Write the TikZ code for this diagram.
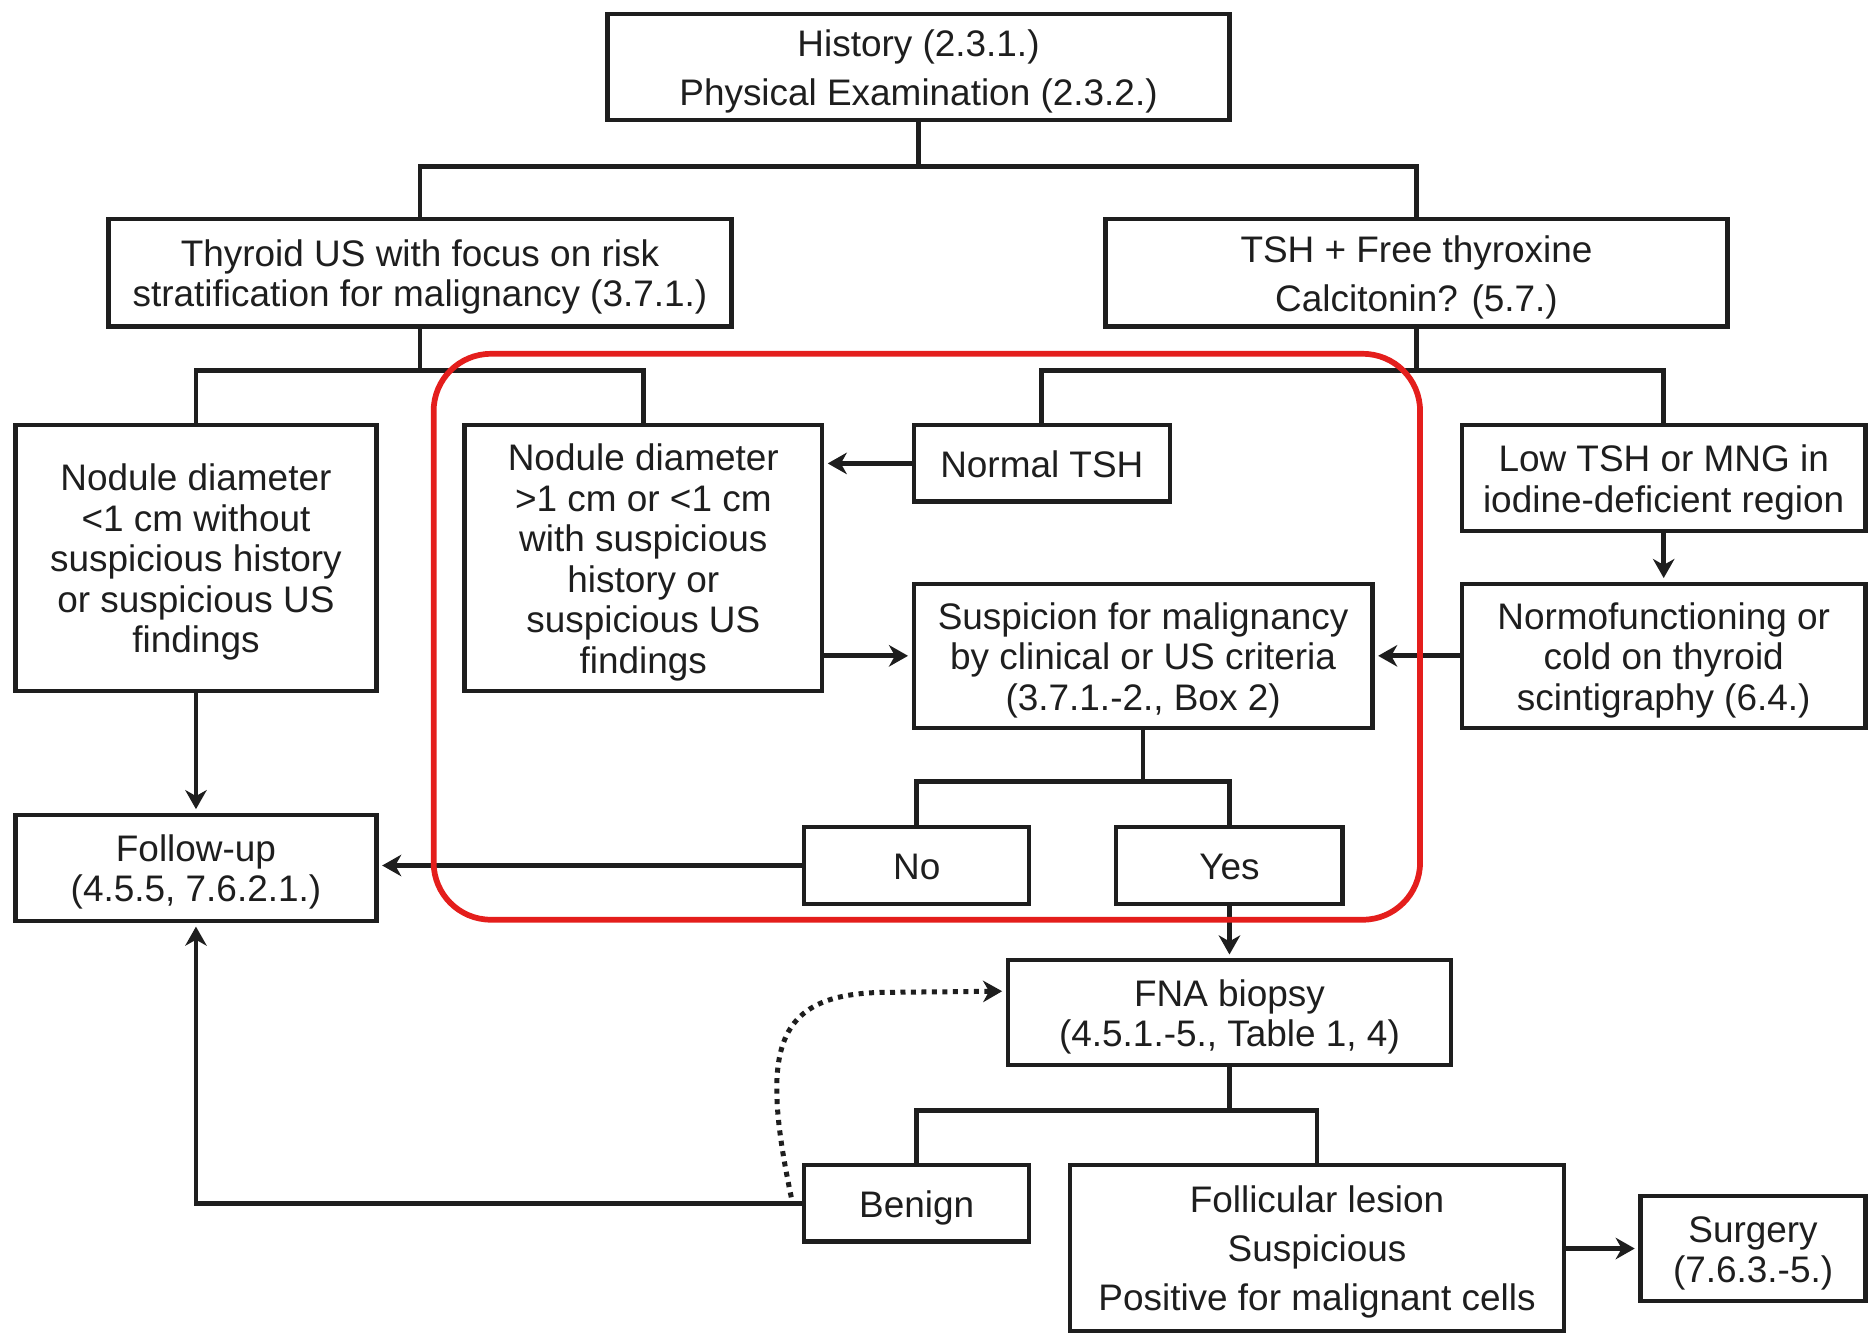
\documentclass[tikz,border=0pt]{standalone}
\usepackage{fontspec}
\setmainfont{Liberation Sans}
\usetikzlibrary{arrows.meta}
\definecolor{hl}{RGB}{228,30,28}
\definecolor{ink}{RGB}{30,30,30}
\newcommand\tstr{\rule{0pt}{15pt}}
\newcommand\bstr{\rule[-3.4pt]{0pt}{0pt}}
\begin{document}
\begin{tikzpicture}[x=0.5pt,y=-0.5pt,
  box/.style={draw=ink, line width=1.8pt, inner sep=0pt, align=center, text=ink,
    font=\fontsize{15.5}{17}\selectfont},
  wide/.style={font=\fontsize{15.5}{20.5}\selectfont},
  conn/.style={draw=ink, line width=2pt},
  tip/.style={-{Stealth[length=8pt,width=9pt,inset=2.5pt]}},
  arr/.style={conn, tip, shorten >=1.5pt}]
\useasboundingbox[fill=white] (0,0) rectangle (1568,1119);

% boxes
\node[box, wide, minimum width=261pt, minimum height=44.5pt] (hist) at (771,56.5)
  {\tstr History (2.3.1.)\\Physical Examination (2.3.2.)\bstr};
\node[box, minimum width=261.5pt, minimum height=45pt] (thy) at (352.5,229)
  {\tstr Thyroid US with focus on risk\\stratification for malignancy (3.7.1.)\bstr};
\node[box, wide, minimum width=261pt, minimum height=45pt] (tsh) at (1189,229)
  {\tstr TSH + Free thyroxine\\Calcitonin? (5.7.)\bstr};
\node[box, minimum width=151.5pt, minimum height=111.5pt] (nsmall) at (164.5,468.5)
  {\tstr Nodule diameter\\<1 cm without\\suspicious history\\or suspicious US\\findings\bstr};
\node[box, minimum width=150pt, minimum height=111.5pt] (nbig) at (540,468.5)
  {\tstr Nodule diameter\\>1 cm or <1 cm\\with suspicious\\history or\\suspicious US\\findings\bstr};
\node[box, minimum width=107.5pt, minimum height=32pt] (ntsh) at (874.5,389)
  {\tstr Normal TSH\bstr};
\node[box, minimum width=169.5pt, minimum height=44.5pt] (lowtsh) at (1396.5,401.5)
  {\tstr Low TSH or MNG in\\iodine-deficient region\bstr};
\node[box, minimum width=169.5pt, minimum height=60.5pt] (normo) at (1396.5,550.5)
  {\tstr Normofunctioning or\\cold on thyroid\\scintigraphy (6.4.)\bstr};
\node[box, minimum width=192.5pt, minimum height=60.5pt] (susp) at (959.5,550.5)
  {\tstr Suspicion for malignancy\\by clinical or US criteria\\(3.7.1.-2., Box 2)\bstr};
\node[box, minimum width=94.5pt, minimum height=32.5pt] (no) at (769.5,726.5) {\tstr No\bstr};
\node[box, minimum width=95pt, minimum height=32.5pt] (yes) at (1032,726.5) {\tstr Yes\bstr};
\node[box, minimum width=151.5pt, minimum height=44.5pt] (fup) at (164.5,728.5)
  {\tstr Follow-up\\(4.5.5, 7.6.2.1.)\bstr};
\node[box, minimum width=186pt, minimum height=44pt] (fna) at (1032,850)
  {\tstr FNA biopsy\\(4.5.1.-5., Table 1, 4)\bstr};
\node[box, minimum width=94.5pt, minimum height=32pt] (benign) at (769.5,1010) {\tstr Benign\bstr};
\node[box, wide, minimum width=207.5pt, minimum height=69.5pt] (foll) at (1105.5,1047.5)
  {\tstr Follicular lesion\\Suspicious\\Positive for malignant cells\bstr};
\node[box, minimum width=94.5pt, minimum height=44pt] (surg) at (1471.5,1048)
  {\tstr Surgery\\(7.6.3.-5.)\bstr};

% tree connectors
\draw[conn] (hist.south) -- (hist.south |- 0,140);
\draw[conn] (thy.north) -- (thy.north |- 0,140) -- (tsh.north |- 0,140) -- (tsh.north);
\draw[conn] (thy.south) -- (thy.south |- 0,311);
\draw[conn] (nsmall.north) -- (nsmall.north |- 0,311) -- (nbig.north |- 0,311) -- (nbig.north);
\draw[conn] (tsh.south) -- (tsh.south |- 0,311);
\draw[conn] (ntsh.north) -- (ntsh.north |- 0,311) -- (lowtsh.north |- 0,311) -- (lowtsh.north);
\draw[conn] (susp.south) -- (susp.south |- 0,656);
\draw[conn] (no.north) -- (no.north |- 0,656) -- (yes.north |- 0,656) -- (yes.north);
\draw[conn] (fna.south) -- (fna.south |- 0,932);
\draw[conn] (benign.north) -- (benign.north |- 0,932) -- (foll.north |- 0,932) -- (foll.north);

% arrows
\draw[arr] (ntsh.west) -- (ntsh.west -| nbig.east);
\draw[arr] (nbig.east |- susp.west) -- (susp.west);
\draw[arr] (normo.west) -- (susp.east);
\draw[arr] (lowtsh.south) -- (normo.north);
\draw[arr] (nsmall.south) -- (fup.north);
\draw[arr] (no.west) -- (no.west -| fup.east);
\draw[arr] (yes.south) -- (fna.north);
\draw[arr] (benign.west) -| (fup.south);
\draw[arr] (foll.east |- surg.west) -- (surg.west);

% dotted return to FNA
\draw[ink, line width=2.1pt, dash pattern=on 2.1pt off 2.3pt, tip, shorten >=1.5pt]
  ([xshift=-4.5pt,yshift=2.5pt]benign.west) .. controls (638,880) and (650,835) .. (740,833)
  -- ([yshift=9pt]fna.west);

% red highlight
\draw[hl, line width=2.4pt, rounded corners=24pt] (364,297) rectangle (1192,772);
\end{tikzpicture}
\end{document}
